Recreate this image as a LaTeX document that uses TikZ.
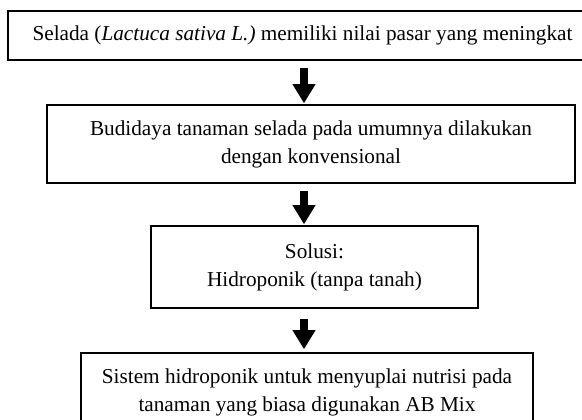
\documentclass[tikz,border=0pt]{standalone}
\usepackage{fontspec}
\setmainfont{Liberation Serif}
\usetikzlibrary{arrows.meta}

\begin{document}
\begin{tikzpicture}[x=0.6pt, y=-0.6pt,
  kotak/.style={draw, line width=0.8pt, align=center, inner sep=0pt, font=\fontsize{12.75}{16.8}\selectfont},
  panah/.style={line width=4.5pt, -{Triangle[width=13pt, length=11.5pt]}, shorten <=4.2pt, shorten >=0.6pt}]
\clip (0,0) rectangle (582,420);
%
\node [kotak, minimum width=353.4pt, minimum height=29.4pt] (selada) at (302.5, 35.5) {Selada (\textit{Lactuca sativa L.)} memiliki nilai pasar yang meningkat};
\node [kotak, minimum width=316.8pt, minimum height=46.8pt] (budidaya) at (311, 144) {Budidaya tanaman selada pada umumnya dilakukan\\dengan konvensional};
\node [kotak, minimum width=196.2pt, minimum height=49.2pt] (solusi) at (314.5, 267) {Solusi:\\Hidroponik (tanpa tanah)};
\node [kotak, minimum width=271.2pt, minimum height=46.8pt] (sistem) at (307, 392) {Sistem hidroponik untuk menyuplai nutrisi pada\\tanaman yang biasa digunakan AB Mix};
%
\coordinate (sumbu) at (304, 0);
\draw [panah] (selada.south -| sumbu) -- (budidaya.north -| sumbu);
\draw [panah] (budidaya.south -| sumbu) -- (solusi.north -| sumbu);
\draw [panah, shorten <=6pt, shorten >=1.8pt] (solusi.south -| sumbu) -- (sistem.north -| sumbu);
%%%%%%%%%%%%%%%%%%%%%%%%%%%%%%%
\end{tikzpicture}
\end{document}
